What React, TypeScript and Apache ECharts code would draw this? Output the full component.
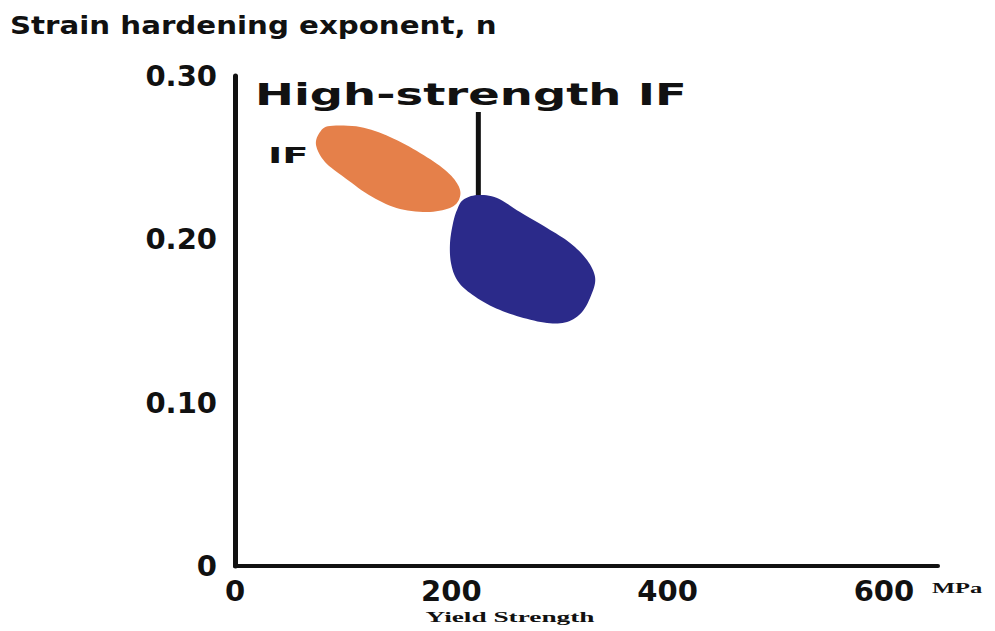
import React, { useEffect, useRef } from 'react';
import * as echarts from 'echarts';

// Axis ticks
const xTicks = [0, 200, 400, 600];
const yTicks = [0, 0.1, 0.2, 0.3];

// Outline of the IF region (yield strength MPa, n)
const ifRegion: [number, number][] = [
  [87.8, 0.2694], [115.6, 0.2688], [143.3, 0.2627], [171.1, 0.2529], [194.2, 0.2425],
  [206.2, 0.2333], [208.0, 0.226], [200.6, 0.2198], [180.3, 0.2168], [152.6, 0.2186],
  [126.7, 0.226], [101.7, 0.2376], [83.2, 0.2474], [74.9, 0.2578], [78.6, 0.2657],
];

// Outline of the high-strength IF region
const hsifRegion: [number, number][] = [
  [210.8, 0.2241], [223.8, 0.2271], [242.3, 0.2253], [263.5, 0.2167], [288.5, 0.2069],
  [309.8, 0.1978], [325.5, 0.1873], [332.9, 0.1769], [330.1, 0.1671], [320.9, 0.1555],
  [307.0, 0.1494], [288.5, 0.1488], [263.5, 0.1525], [238.6, 0.1586], [217.3, 0.1671],
  [205.3, 0.1751], [199.7, 0.1855], [198.8, 0.1978], [201.6, 0.21], [205.3, 0.218],
];

// Leader line from the "High-strength IF" label
const leaderLine: [number, number][] = [[225, 0.278], [225, 0.222]];

// closed Catmull-Rom outline through pixel points (drawing only)
function smoothClosed(pts: number[][], steps = 8): number[][] {
  const n = pts.length;
  const out: number[][] = [];
  for (let i = 0; i < n; i++) {
    const p0 = pts[(i - 1 + n) % n];
    const p1 = pts[i];
    const p2 = pts[(i + 1) % n];
    const p3 = pts[(i + 2) % n];
    for (let s = 0; s < steps; s++) {
      const t = s / steps;
      const t2 = t * t;
      const t3 = t2 * t;
      const f = (a: number, b: number, c: number, d: number) =>
        0.5 * (2 * b + (-a + c) * t + (2 * a - 5 * b + 4 * c - d) * t2 + (-a + 3 * b - 3 * c + d) * t3);
      out.push([f(p0[0], p1[0], p2[0], p3[0]), f(p0[1], p1[1], p2[1], p3[1])]);
    }
  }
  return out;
}

export default function App() {
  const ref = useRef<HTMLDivElement>(null);
  useEffect(() => {
    document.body.style.margin = '0';
    const chart = echarts.init(ref.current!, null, { renderer: 'svg' });
    const blob = (name: string, pts: [number, number][], color: string) => ({
      type: 'custom',
      name,
      coordinateSystem: 'cartesian2d',
      data: pts,
      encode: { x: 0, y: 1 },
      silent: true,
      z: 3,
      renderItem: (params: any, api: any) => {
        if (params.dataIndex !== 0) return null;
        const points = smoothClosed(pts.map((p) => api.coord(p)));
        return {
          type: 'polygon',
          shape: { points },
          style: { fill: color },
        };
      },
    });
    const axisFont = { fontFamily: 'DejaVu Sans', fontWeight: 'bold', fontSize: 29, color: '#111' };
    chart.setOption({
      animation: false,
      backgroundColor: '#fff',
      grid: { left: 235, right: 57, top: 76, bottom: 65, containLabel: false },
      xAxis: {
        type: 'value',
        min: 0,
        max: 650,
        interval: 200,
        axisLine: { show: true, lineStyle: { color: '#111', width: 4 } },
        axisTick: { show: false },
        splitLine: { show: false },
        axisLabel: {
          ...axisFont,
          margin: 10,
          formatter: (v: number) => (xTicks.includes(v) ? String(v) : ''),
        },
      },
      yAxis: {
        type: 'value',
        min: 0,
        max: 0.3,
        interval: 0.1,
        axisLine: { show: true, lineStyle: { color: '#111', width: 5 } },
        axisTick: { show: false },
        splitLine: { show: false },
        axisLabel: {
          ...axisFont,
          margin: 18,
          formatter: (v: number) => {
            const t = yTicks.find((y) => Math.abs(y - v) < 1e-9);
            if (t === undefined) return '';
            return t === 0 ? '0' : t.toFixed(2);
          },
        },
      },
      series: [
        {
          type: 'line',
          name: 'leader',
          data: leaderLine,
          symbol: 'none',
          silent: true,
          z: 2,
          lineStyle: { color: '#111', width: 5 },
        },
        blob('IF', ifRegion, '#E5804A'),
        blob('High-strength IF', hsifRegion, '#2B2A8A'),
      ],
      graphic: [
        {
          type: 'text', x: 10, y: 25, scaleX: 1.22,
          style: { text: 'Strain hardening exponent, n', font: 'bold 24px "DejaVu Sans"', fill: '#111', textAlign: 'left', textVerticalAlign: 'middle' },
        },
        {
          type: 'text', x: 255, y: 95, scaleX: 1.55,
          style: { text: 'High-strength IF', font: 'bold 30px "DejaVu Sans"', fill: '#111', textAlign: 'left', textVerticalAlign: 'middle' },
        },
        {
          type: 'text', x: 268, y: 155, scaleX: 1.75,
          style: { text: 'IF', font: 'bold 22px "DejaVu Sans"', fill: '#111', textAlign: 'left', textVerticalAlign: 'middle' },
        },
        {
          type: 'text', x: 932, y: 588, scaleX: 1.75,
          style: { text: 'MPa', font: 'bold 14px "Liberation Serif"', fill: '#111', textAlign: 'left', textVerticalAlign: 'middle' },
        },
        {
          type: 'text', x: 510, y: 617, scaleX: 1.95,
          style: { text: 'Yield Strength', font: 'bold 14px "Liberation Serif"', fill: '#111', textAlign: 'center', textVerticalAlign: 'middle' },
        },
      ],
    });
    return () => chart.dispose();
  }, []);
  return <div ref={ref} style={{ width: 995, height: 631, background: '#fff' }} />;
}
